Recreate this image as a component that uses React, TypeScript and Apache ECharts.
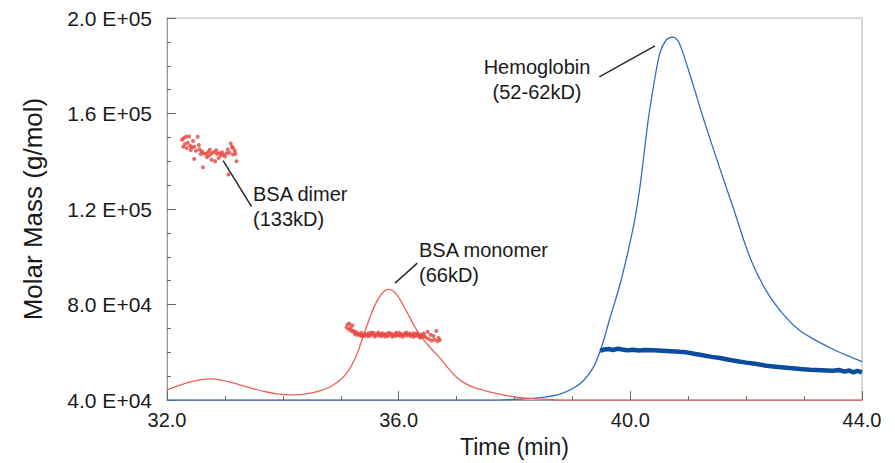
import React, { useEffect, useRef } from "react";
import * as echarts from "echarts";

// ---- Data (time in min, molar mass / signal in g/mol) ----
const xTicks = [32, 36, 40, 44];
const yTicks = [40000, 80000, 120000, 160000, 200000];

// BSA concentration trace (red line), [time, value in kg/mol]
const bsaTraceK: [number, number][] = [
  [32.0, 44.3], [32.2, 46.1], [32.4, 47.6], [32.6, 48.6], [32.75, 48.9], [32.9, 48.6],
  [33.1, 47.5], [33.3, 46.1], [33.5, 44.7], [33.7, 43.5], [33.9, 42.6], [34.1, 42.2],
  [34.3, 42.3], [34.5, 43.0], [34.7, 44.4], [34.85, 46.0], [35.0, 48.6], [35.12, 51.8],
  [35.25, 57.5], [35.35, 64.0], [35.45, 71.0], [35.55, 77.5], [35.65, 82.5], [35.75, 85.6],
  [35.82, 86.4], [35.9, 85.8], [36.0, 83.0], [36.1, 78.8], [36.2, 74.2], [36.3, 69.8],
  [36.4, 66.2], [36.55, 61.8], [36.7, 58.0], [36.85, 53.5], [37.0, 49.6], [37.15, 47.0],
  [37.3, 45.2], [37.46, 44.2], [37.6, 43.2], [37.8, 42.2], [38.04, 41.2], [38.3, 40.6],
  [38.56, 40.3], [38.8, 40.0], [41.0, 40.0], [44.0, 40.0],
];

// Hemoglobin concentration trace (blue line)
const hbTraceK: [number, number][] = [
  [32.0, 40.0], [35.0, 40.0], [37.6, 40.0], [38.1, 40.4], [38.45, 41.0], [38.8, 42.6],
  [39.13, 46.8], [39.36, 53.7], [39.5, 62.0], [39.65, 74.5], [39.82, 88.3], [39.96, 102.2],
  [40.08, 116.0], [40.17, 129.9], [40.24, 143.8], [40.31, 157.6], [40.4, 171.5], [40.51, 185.3],
  [40.62, 190.8], [40.73, 192.0], [40.82, 190.5], [40.91, 185.3], [41.09, 171.5], [41.26, 158.0],
  [41.49, 141.0], [41.78, 120.2], [42.07, 99.4], [42.35, 85.6], [42.64, 75.9], [42.93, 69.0],
  [43.22, 64.8], [43.5, 61.3], [43.75, 58.6], [44.0, 56.1],
];

// Hemoglobin molar mass (dense dark-blue band)
const hbMassK: [number, number][] = [
  [39.48, 60.6], [39.55, 61.2], [39.62, 61.4], [39.7, 61.0], [39.78, 61.5], [39.86, 61.2],
  [39.95, 60.9], [40.05, 61.1], [40.15, 60.8], [40.25, 61.0], [40.4, 60.9], [40.55, 60.7],
  [40.7, 60.5], [40.85, 60.2], [40.97, 60.0], [41.1, 59.4], [41.25, 58.8], [41.4, 58.1],
  [41.55, 57.6], [41.7, 56.9], [41.85, 56.3], [42.0, 55.7], [42.15, 55.2], [42.35, 54.4],
  [42.55, 53.9], [42.75, 53.4], [42.93, 53.0], [43.1, 52.7], [43.3, 52.5], [43.5, 52.3],
  [43.6, 52.6], [43.7, 51.9], [43.78, 52.4], [43.85, 51.6], [43.92, 52.2], [44.0, 51.6],
];

// BSA dimer molar mass points
const dimerMassK: [number, number][] = [
  [32.26, 149.0], [32.29, 149.7], [32.33, 150.3], [32.38, 150.4], [32.53, 150.3],
  [32.28, 146.1], [32.34, 145.6], [32.40, 146.5], [32.43, 145.9], [32.47, 146.1],
  [32.41, 144.7], [32.50, 144.4], [32.56, 145.0], [32.60, 144.2], [32.63, 143.4],
  [32.67, 143.1], [32.71, 143.9], [32.73, 142.4], [32.77, 143.4], [32.81, 143.9],
  [32.86, 143.1], [32.90, 143.4], [32.93, 142.4], [32.97, 142.8], [33.00, 142.0],
  [33.03, 143.4], [33.12, 146.1], [33.14, 145.6], [33.17, 144.4], [33.14, 142.8],
  [33.20, 140.0], [32.47, 141.0], [32.62, 137.5], [32.77, 140.6], [32.83, 140.0],
  [32.89, 141.4], [33.06, 134.5], [32.36, 147.8], [32.45, 148.5], [32.55, 146.8],
  [32.74, 144.8], [32.85, 144.6], [33.05, 144.9], [33.10, 147.5], [33.18, 143.2],
  [32.69, 141.8], [32.95, 143.8], [32.31, 147.2], [32.58, 143.0], [33.08, 143.6],
];

// BSA monomer molar mass points
const monomerMassK: [number, number][] = [
  [35.10, 70.5], [35.12, 71.8], [35.14, 69.6], [35.15, 72.0], [35.17, 70.2], [35.19, 68.8],
  [35.20, 71.2], [35.22, 69.0], [35.24, 67.8], [35.26, 68.5], [35.28, 67.2], [35.30, 67.9],
  [35.33, 67.4], [35.36, 68.2], [35.39, 67.1], [35.42, 67.8], [35.45, 67.3], [35.48, 68.0],
  [35.51, 67.0], [35.54, 67.6], [35.57, 68.1], [35.60, 67.2], [35.63, 67.7], [35.66, 66.9],
  [35.69, 67.5], [35.72, 68.0], [35.75, 67.3], [35.78, 67.8], [35.81, 66.8], [35.84, 67.4],
  [35.87, 67.9], [35.90, 67.1], [35.93, 67.6], [35.96, 68.2], [35.99, 67.3], [36.02, 66.9],
  [36.05, 67.7], [36.08, 67.2], [36.11, 67.9], [36.14, 67.0], [36.17, 67.5], [36.20, 66.8],
  [36.23, 67.4], [36.26, 68.0], [36.29, 66.9], [36.32, 67.3], [36.35, 66.6], [36.38, 67.5],
  [36.41, 66.4], [36.44, 67.1], [36.47, 66.2], [36.50, 68.6], [36.52, 65.6], [36.55, 67.4],
  [36.57, 64.9], [36.60, 66.8], [36.62, 65.3], [36.65, 68.9], [36.67, 64.6], [36.69, 66.0],
  [36.71, 65.2], [35.35, 66.8], [35.41, 66.9], [35.47, 66.7], [35.53, 68.3], [35.59, 66.6],
  [35.65, 68.3], [35.71, 66.7], [35.77, 66.6], [35.83, 68.2], [35.89, 66.5], [35.95, 66.8],
  [36.01, 68.1], [36.07, 66.5], [36.13, 68.3], [36.19, 67.9], [36.25, 66.5], [36.31, 67.9],
  [36.37, 66.2], [36.43, 67.9],
];

// Annotations: label, text anchor (time, value), leader line from/to (time, value)
const annotations: {
  text: string;
  at: [number, number];
  from: [number, number];
  to: [number, number];
  align: "left" | "center";
}[] = [
  { text: "BSA dimer\n(133kD)", at: [33.485, 121000], from: [32.97, 140300], to: [33.46, 121000], align: "left" },
  { text: "BSA monomer\n(66kD)", at: [36.351, 97800], from: [35.937, 89000], to: [36.322, 97350], align: "left" },
  { text: "Hemoglobin\n(52-62kD)", at: [38.389, 174100], from: [39.464, 175350], to: [40.426, 188360], align: "center" },
];

const toAbs = (arr: [number, number][]) => arr.map(([t, v]) => [t, v * 1000]);

const FONT = '"Liberation Sans", Arial, Helvetica, sans-serif';

const fmtSci = (v: number) => {
  const e = Math.floor(Math.log10(v) + 1e-9);
  const m = v / Math.pow(10, e);
  return `${m.toFixed(1)} E+${String(e).padStart(2, "0")}`;
};

export default function App() {
  const ref = useRef<HTMLDivElement>(null);
  useEffect(() => {
    if (!ref.current) return;
    const chart = echarts.init(ref.current, undefined, { renderer: "svg" });
    const gray = "#9a9a9a";
    chart.setOption({
      animation: false,
      backgroundColor: "#ffffff",
      grid: { left: 167, right: 33, top: 18, bottom: 60, show: true, borderColor: "#b0b0b0", borderWidth: 1 },
      xAxis: {
        type: "value",
        min: xTicks[0],
        max: xTicks[xTicks.length - 1],
        interval: xTicks[1] - xTicks[0],
        name: "Time (min)",
        nameLocation: "middle",
        nameGap: 32,
        nameTextStyle: { fontFamily: FONT, fontSize: 23, color: "#1a1a1a", verticalAlign: "top" },
        axisLine: { lineStyle: { color: gray, width: 1 } },
        axisTick: { inside: true, length: 9, lineStyle: { color: "#666" } },
        minorTick: { show: true, splitNumber: 4, length: 4, lineStyle: { color: "#666" } },
        splitLine: { show: false },
        axisLabel: {
          margin: 10,
          fontFamily: FONT,
          fontSize: 20,
          color: "#1a1a1a",
          showMinLabel: true,
          showMaxLabel: true,
          formatter: (v: number) => v.toFixed(1),
        },
      },
      yAxis: {
        type: "value",
        min: yTicks[0],
        max: yTicks[yTicks.length - 1],
        interval: yTicks[1] - yTicks[0],
        name: "Molar Mass (g/mol)",
        nameLocation: "middle",
        nameGap: 121,
        nameRotate: 90,
        nameTextStyle: { fontFamily: FONT, fontSize: 26, color: "#1a1a1a" },
        axisLine: { show: true, lineStyle: { color: gray, width: 1 } },
        axisTick: { show: true, inside: true, length: 9, lineStyle: { color: "#666" } },
        minorTick: { show: true, splitNumber: 4, length: 4, lineStyle: { color: "#666" } },
        splitLine: { show: false },
        axisLabel: {
          margin: 15,
          fontFamily: FONT,
          fontSize: 21,
          color: "#1a1a1a",
          showMinLabel: true,
          showMaxLabel: true,
          formatter: (v: number) => fmtSci(v),
        },
      },
      series: [
        {
          name: "Hemoglobin trace",
          type: "line",
          data: toAbs(hbTraceK),
          smooth: 0.3,
          showSymbol: false,
          lineStyle: { color: "#2e6fbe", width: 1.3 },
          z: 2,
        },
        {
          name: "BSA trace",
          type: "line",
          data: toAbs(bsaTraceK),
          smooth: 0.35,
          showSymbol: false,
          lineStyle: { color: "#ee5e58", width: 1.3 },
          z: 3,
        },
        {
          name: "Hemoglobin molar mass",
          type: "line",
          data: toAbs(hbMassK),
          smooth: false,
          showSymbol: false,
          lineStyle: { color: "#0b4c9e", width: 4.5 },
          z: 4,
        },
        {
          name: "BSA dimer molar mass",
          type: "scatter",
          data: toAbs(dimerMassK),
          symbol: "circle",
          symbolSize: 4,
          itemStyle: { color: "#e8423c" },
          z: 5,
        },
        {
          name: "BSA monomer molar mass",
          type: "scatter",
          data: toAbs(monomerMassK),
          symbol: "circle",
          symbolSize: 4,
          itemStyle: { color: "#e8423c" },
          z: 5,
        },
      ],
    });

    const graphics: any[] = [];
    annotations.forEach((a) => {
      const p = chart.convertToPixel({ gridIndex: 0 }, a.at) as number[];
      const f = chart.convertToPixel({ gridIndex: 0 }, a.from) as number[];
      const t = chart.convertToPixel({ gridIndex: 0 }, a.to) as number[];
      graphics.push({
        type: "line",
        shape: { x1: f[0], y1: f[1], x2: t[0], y2: t[1] },
        style: { stroke: "#2a2a2a", lineWidth: 1.5 },
        z: 10,
      });
      graphics.push({
        type: "text",
        x: p[0],
        y: p[1],
        style: {
          text: a.text,
          fontFamily: FONT,
          fontSize: 20,
          fill: "#1a1a1a",
          align: a.align,
          verticalAlign: "middle",
          lineHeight: 25,
        },
        z: 10,
      });
    });
    chart.setOption({ graphic: graphics });

    return () => chart.dispose();
  }, []);
  return <div ref={ref} style={{ position: "absolute", left: 0, top: 0, width: 895, height: 463 }} />;
}
